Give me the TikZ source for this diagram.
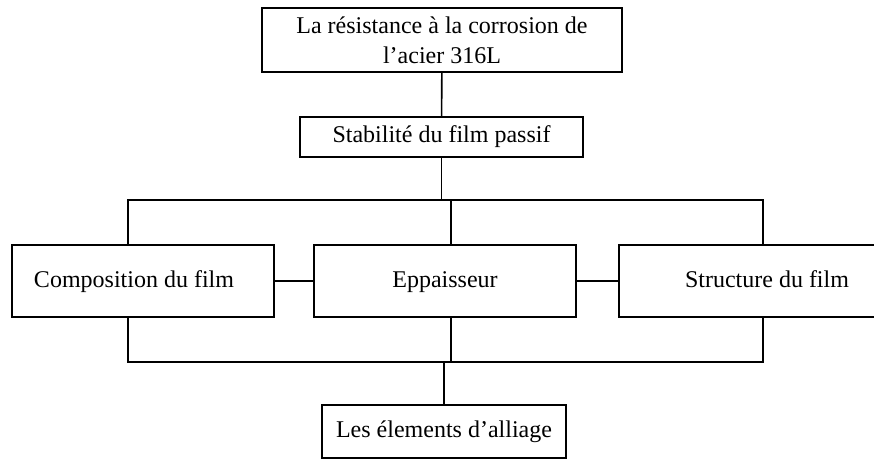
\documentclass[tikz,border=0pt]{standalone}
\usepackage{fontspec}
\setmainfont{Liberation Serif}
\usetikzlibrary{positioning}

\begin{document}
\begin{tikzpicture}[x=0.5pt,y=-0.5pt,
    box/.style={draw, thick, inner sep=0pt, align=center, font=\fontsize{12pt}{15pt}\selectfont},
    midbox/.style={box, minimum width=131pt, minimum height=36pt, text height=9pt, text depth=3pt},
    link/.style={thick}]
    \clip (0,0) rectangle (874,460);
    \useasboundingbox (0,0) rectangle (874,460);

    \node[box, minimum width=180pt, minimum height=32pt] (top) at (442,40) {La résistance à la corrosion de\\l’acier 316L};
    \node[box, minimum width=141.5pt, minimum height=20pt] (stab) at (441.5,137) {Stabilité du film passif};

    \node[midbox] (comp) at (143,281) {Composition du film\hspace*{9pt}};
    \node[midbox] (epp) at (445,281) {Eppaisseur};
    \node[midbox] (struct) at (750,281) {\hspace*{17pt}Structure du film};

    \node[box, minimum width=122pt, minimum height=26.5pt] (elem) at (444,431.5) {Les élements d’alliage};

    \coordinate (tl) at (128,200);
    \coordinate (tr) at (763,200);
    \coordinate (bl) at (128,362);
    \coordinate (br) at (763,362);

    % upper branch
    \draw[link] (top) -- (stab);
    \draw[link] (stab) -- (stab.south |- tl);
    \draw[link] (comp.north -| tl) |- (tr) -- (struct.north -| tr);
    \draw[link] ([xshift=3pt]epp.north) -- ([xshift=3pt]epp.north |- tl);

    % side links
    \draw[link] (comp) -- (epp);
    \draw[link] (epp) -- (struct);

    % lower branch
    \draw[link] (comp.south -| bl) |- (br) -- (struct.south -| br);
    \draw[link] ([xshift=3pt]epp.south) -- ([xshift=3pt]epp.south |- bl);
    \draw[link] (elem) -- (elem.north |- bl);
\end{tikzpicture}
\end{document}
